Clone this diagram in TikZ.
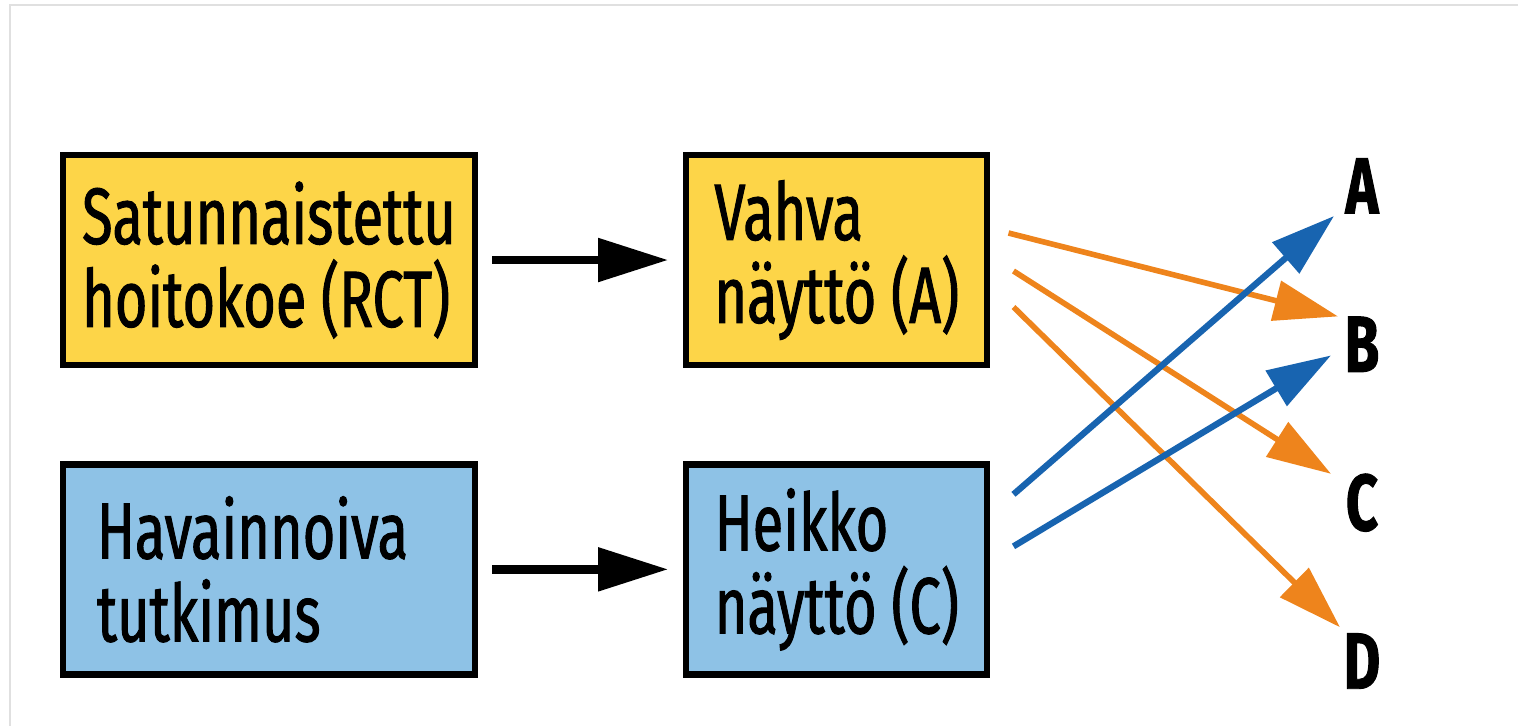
\documentclass[tikz,border=0pt]{standalone}
\usepackage{fontspec}
\setmainfont[FakeStretch=0.70,FakeBold=1.2]{Fira Sans}
\usepackage{xcolor}
\usepackage{tikz}
\usetikzlibrary{arrows.meta,positioning}

\definecolor{rctyellow}{RGB}{253,213,72}
\definecolor{obsblue}{RGB}{142,194,230}
\definecolor{arrorange}{RGB}{238,132,28}
\definecolor{arrblue}{RGB}{24,100,176}

\begin{document}
\begin{tikzpicture}[
      mybox/.style={
         rectangle,
         draw=black,
         line width=1.8pt,
         inner sep=0pt,
         minimum height=2.10cm,
         align=left,
         font=\fontsize{22.7}{23.6}\selectfont},
      studybox/.style={mybox,minimum width=4.12cm},
      gradebox/.style={mybox,minimum width=3.01cm},
      mylabel/.style={
         inner sep=0pt,
         text height=0.55cm,
         text depth=0pt,
         font=\fontsize{22.7}{23.6}\selectfont\bfseries},
      blackarrow/.style={-{Triangle[length=7mm,width=4.2mm]},line width=2.4pt,
         shorten <=1.4mm,shorten >=1.5mm},
      orangearrow/.style={-{Triangle[length=6.4mm,width=4mm]},line width=1.6pt,color=arrorange},
      bluearrow/.style={-{Triangle[length=6.4mm,width=4mm]},line width=1.8pt,color=arrblue},
      node distance=0.93cm and 2.05cm
      ]
\useasboundingbox (0,0) rectangle (15.18,-7.26);
\draw[black!12,line width=0.6pt] (0.10,-7.26) -- (0.10,-0.05) -- (15.18,-0.05);

\node[studybox,fill=rctyellow                ] (satu)   at (2.69,-2.60) {Satunnaistettu\\hoitokoe (RCT)};
\node[gradebox,fill=rctyellow,right=of satu  ] (vahva)  {Vahva\\näyttö (A)};
\node[studybox,fill=obsblue,  below=of satu,text width=3.44cm] (havain) {Havainnoiva\\tutkimus};
\node[gradebox,fill=obsblue,  right=of havain] (heikko) {Heikko\\näyttö (C)};

\node[mylabel                 ] (lA) at (13.62,-1.86) {A};
\node[mylabel,below=1.02cm of lA] (lB) {B};
\node[mylabel,below=1.02cm of lB] (lC) {C};
\node[mylabel,below=1.02cm of lC] (lD) {D};

% start and end points of the grade arrows
\coordinate (va1) at ([shift={(0.18,0.27)}]vahva.east);
\coordinate (va2) at ([shift={(0.23,-0.11)}]vahva.east);
\coordinate (va3) at ([shift={(0.23,-0.47)}]vahva.east);
\coordinate (he1) at ([shift={(0.23,0.75)}]heikko.east);
\coordinate (he2) at ([shift={(0.23,0.23)}]heikko.east);
\coordinate (inA)  at ([shift={(-0.28,-0.30)}]lA.center);
\coordinate (inB1) at ([shift={(-0.24,0.28)}]lB.center);
\coordinate (inB2) at ([shift={(-0.31,-0.11)}]lB.center);
\coordinate (inC)  at ([shift={(-0.31,0.29)}]lC.center);
\coordinate (inD)  at ([shift={(-0.22,0.34)}]lD.center);

\draw[blackarrow] (satu) -- (vahva);
\draw[blackarrow] (havain) -- (heikko);

\foreach \i/\j in {va1/inB1, va2/inC, va3/inD}
       \draw[orangearrow] (\i) -- (\j);
\foreach \i/\j in {he1/inA, he2/inB2}
       \draw[bluearrow] (\i) -- (\j);

\end{tikzpicture}
\end{document}
